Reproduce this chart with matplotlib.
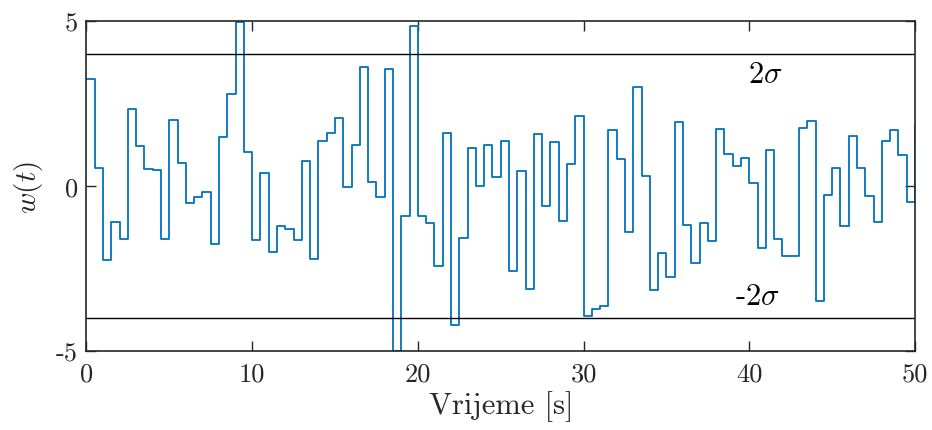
import matplotlib
matplotlib.use('Agg')
import matplotlib.pyplot as plt
import numpy as np

plt.rcParams['font.family'] = 'serif'
plt.rcParams['font.serif'] = ['cmr10']
plt.rcParams['mathtext.fontset'] = 'cm'
plt.rcParams['axes.unicode_minus'] = False

# sampled noise, one value every 0.5 s (stairs)
t = np.arange(0, 50.5, 0.5)
w = [3.24, 0.55, -2.23, -1.10, -1.61, 2.33, 1.20, 0.50, 0.49, -1.62,
     2.00, 0.71, -0.52, -0.34, -0.19, -1.76, 1.49, 2.79, 4.96, 1.03,
     -1.64, 0.40, -1.99, -1.20, -1.30, -1.65, 0.77, -2.21, 1.35, 1.61,
     2.07, -0.02, 1.25, 3.62, 0.11, -0.34, 3.55, -5.00, -0.90, 4.86,
     -0.92, -1.11, -2.43, 1.61, -4.20, -1.59, 1.14, 0.01, 1.25, 0.27,
     1.37, -2.57, 0.45, -3.12, 1.58, -0.61, 1.32, -1.07, 0.67, 2.11,
     -3.93, -3.72, -3.65, 1.71, 0.82, -1.38, 3.01, 0.29, -3.15, -2.02,
     -2.77, 1.93, -1.17, -2.33, -1.13, -1.67, 1.73, 0.97, 0.62, 0.85,
     0.10, -1.89, 1.09, -1.62, -2.11, -2.13, 1.76, 1.98, -3.49, -0.28,
     0.53, -1.20, 1.52, 0.53, -0.29, -1.10, 1.37, 1.71, 0.95, -0.48,
     1.83]
sigma2 = 4.0

fig = plt.figure(figsize=(9.32, 4.31), dpi=100)
ax = fig.add_axes([0.0928, 0.1833, 0.8890, 0.7657])

ax.step(t, w, where='post', color='#0072BD', lw=1.3)
ax.axhline(sigma2, color='k', lw=1.0)
ax.axhline(-sigma2, color='k', lw=1.0)
ax.text(40.95, 3.39, r'$2\sigma$', fontsize=22, ha='center', va='center')
ax.text(40.5, -3.33, r'-$2\sigma$', fontsize=22, ha='center', va='center')

ax.set_xlim(0, 50)
ax.set_ylim(-5, 5)
ax.set_xticks([0, 10, 20, 30, 40, 50])
ax.set_yticks([-5, 0, 5])
ax.tick_params(direction='in', top=True, right=True, length=7, width=1.0,
               labelsize=19, colors='#262626')
ax.tick_params(axis='x', pad=8)
ax.tick_params(axis='y', pad=6)
for s in ax.spines.values():
    s.set_color('#262626')
    s.set_linewidth(1.2)

ax.set_xlabel('Vrijeme [s]', fontsize=22, color='#262626', labelpad=3)
ax.set_ylabel(r'$w(t)$', fontsize=21, color='#262626', labelpad=8)

fig.savefig('out.png', dpi=100)
